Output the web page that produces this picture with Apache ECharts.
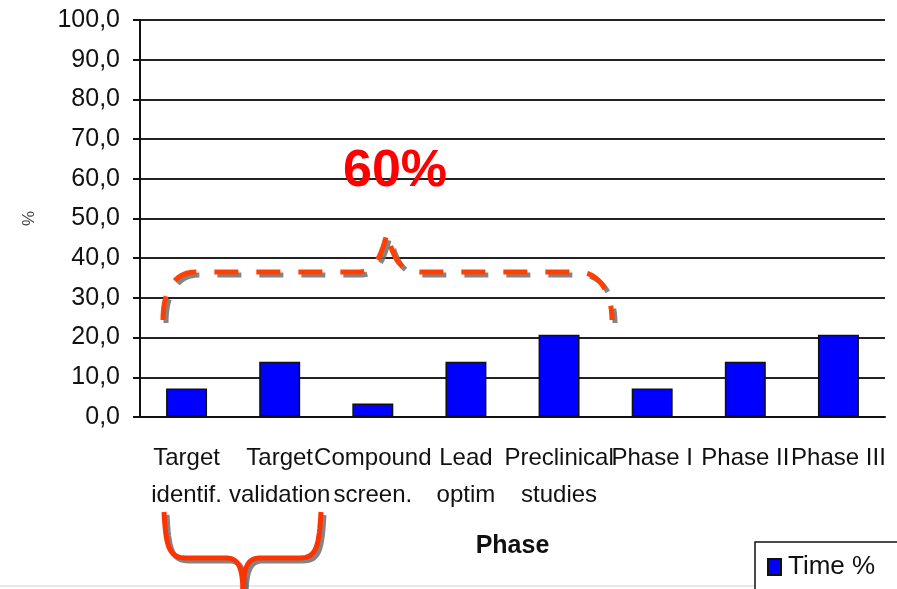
<!DOCTYPE html>
<html>
<head>
<meta charset="utf-8">
<script src="https://cdn.jsdelivr.net/npm/echarts@6/dist/echarts.min.js"></script>
<style>
  html, body { margin: 0; padding: 0; background: #fff; }
  #main { width: 897px; height: 589px; }
</style>
</head>
<body>
<div id="main"></div>
<script>
var phases = ['Target\nidentif.', 'Target\nvalidation', 'Compound\nscreen.', 'Lead\noptim',
    'Preclinical\nstudies', 'Phase I', 'Phase II', 'Phase III'];
var timePercent = [7.2, 13.9, 3.4, 13.9, 20.7, 7.2, 13.9, 20.7];
var seriesName = 'Time %';

var FONT = '"Liberation Sans", Arial, sans-serif';
var myChart = echarts.init(document.getElementById('main'));

// red braces drawn on top of the chart, as in the slide
var shadow = {
    shadowColor: 'rgba(110,110,110,0.85)',
    shadowOffsetX: 3,
    shadowOffsetY: 3,
    shadowBlur: 0
};

// turn a list of segments (line / cubic) into polyline points
function tracePath(start, segs) {
    var pts = [start];
    var cur = start;
    segs.forEach(function (s) {
        if (s.length === 1) {
            pts.push(s[0]);
            cur = s[0];
            return;
        }
        var p1 = s[0], p2 = s[1], p3 = s[2];
        for (var i = 1; i <= 16; i++) {
            var t = i / 16, u = 1 - t;
            pts.push([
                u * u * u * cur[0] + 3 * u * u * t * p1[0] + 3 * u * t * t * p2[0] + t * t * t * p3[0],
                u * u * u * cur[1] + 3 * u * u * t * p1[1] + 3 * u * t * t * p2[1] + t * t * t * p3[1]
            ]);
        }
        cur = p3;
    });
    return pts;
}

var bigBrace = tracePath([163, 320], [
    [[163, 294], [172, 272], [196, 272]],
    [[358, 272]],
    [[372, 272], [380, 262], [387, 233]],
    [[394, 262], [402, 272], [420, 272]],
    [[578, 272]],
    [[600, 272], [612, 294], [612, 320]]
]);
var smallBraceLeft = tracePath([164, 512], [
    [[166, 545], [168, 558], [186, 558]],
    [[226, 558]],
    [[238, 558], [243, 566], [243, 595]]
]);
var smallBraceRight = tracePath([321, 512], [
    [[319, 545], [317, 558], [300, 558]],
    [[260, 558]],
    [[248, 558], [243, 566], [243, 595]]
]);

function braceLine(points, color, dash) {
    return {
        type: 'polyline',
        z: 100,
        shape: { points: points },
        style: Object.assign({
            fill: null,
            stroke: color,
            lineWidth: 5,
            lineDash: dash || null,
            lineJoin: 'round'
        }, shadow)
    };
}

var option = {
    animation: false,
    grid: { left: 140, right: 12, top: 20, bottom: 172 },
    xAxis: {
        type: 'category',
        data: phases,
        name: 'Phase',
        nameLocation: 'middle',
        nameGap: 117,
        nameTextStyle: { fontFamily: FONT, fontSize: 25, fontWeight: 'bold', color: '#111' },
        axisLine: { lineStyle: { color: '#111', width: 2 } },
        axisTick: { length: 7, lineStyle: { color: '#111', width: 2 } },
        axisLabel: {
            interval: 0,
            margin: 23,
            fontFamily: FONT,
            fontSize: 24,
            lineHeight: 37,
            color: '#111'
        }
    },
    yAxis: {
        type: 'value',
        min: 0,
        max: 100,
        interval: 10,
        name: '%',
        nameLocation: 'middle',
        nameRotate: 90,
        nameGap: 102,
        nameTextStyle: { fontFamily: FONT, fontSize: 17, color: '#444' },
        axisLine: { show: true, lineStyle: { color: '#111', width: 2 } },
        axisTick: { show: true, length: 7, lineStyle: { color: '#111', width: 2 } },
        axisLabel: {
            margin: 20,
            fontFamily: FONT,
            fontSize: 25,
            color: '#111',
            formatter: function (v) {
                return v.toFixed(1).replace('.', ',');
            }
        },
        splitLine: { lineStyle: { color: '#222', width: 2 } }
    },
    legend: {
        data: [seriesName],
        icon: 'rect',
        left: 755,
        top: 542,
        padding: [12, 30, 20, 12],
        itemWidth: 13,
        itemHeight: 16,
        itemGap: 6,
        borderColor: '#111',
        borderWidth: 1.5,
        backgroundColor: '#fff',
        textStyle: { fontFamily: FONT, fontSize: 26, color: '#111', padding: [0, 0, 0, 2] }
    },
    series: [{
        name: seriesName,
        type: 'bar',
        data: timePercent,
        barWidth: '44%',
        itemStyle: { color: '#0000FF', borderColor: '#111', borderWidth: 1.5 }
    }],
    graphic: [
        {
            type: 'line',
            z: 1,
            shape: { x1: 0, y1: 586, x2: 755, y2: 586 },
            style: { stroke: '#d0d0d0', lineWidth: 1 }
        },
        braceLine(bigBrace, '#FF4000', [24, 18]),
        braceLine(smallBraceLeft, '#FF3300'),
        braceLine(smallBraceRight, '#FF3300'),
        {
            type: 'text',
            z: 100,
            x: 395,
            y: 172,
            style: {
                text: '60%',
                fill: '#FF0000',
                font: 'bold 52px ' + FONT,
                align: 'center',
                verticalAlign: 'middle'
            }
        }
    ]
};

myChart.setOption(option);
</script>
</body>
</html>
